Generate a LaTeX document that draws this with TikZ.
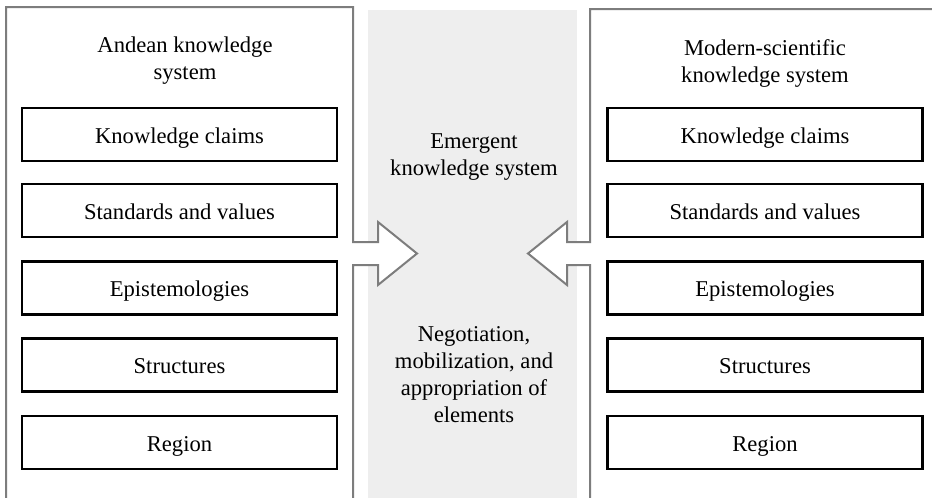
\documentclass[tikz,border=0pt]{standalone}
\usepackage{fontspec}
\setmainfont{Liberation Serif}
\definecolor{panelgray}{RGB}{125,125,125}
\definecolor{bandgray}{RGB}{238,238,238}
\begin{document}
\begin{tikzpicture}[x=1pt,y=-1pt,
  panel/.style={draw=panelgray, line width=2pt, fill=white, line join=miter},
  item/.style={draw=black, line width=2.6pt, fill=white, minimum width=315pt, minimum height=53pt,
    inner sep=0pt, text height=17pt, text depth=0pt, font=\fontsize{22.6}{27}\selectfont},
  label/.style={inner sep=0pt, align=center, anchor=north, font=\fontsize{22.6}{27}\selectfont}]
\useasboundingbox (0,0) rectangle (932,498);
% central band
\node[fill=bandgray, minimum width=209pt, minimum height=488pt, inner sep=0pt, anchor=north west] (band) at (368,10) {};
% left panel with arrow
\draw[panel] (6,499) -- (6,7) -- (353,7) -- (353,242) -- (378,242) -- (378,222) -- (417,253.5)
  -- (378,285) -- (378,265) -- (353,265) -- (353,499);
% right panel with arrow
\draw[panel] (934,9) -- (590,9) -- (590,242) -- (567,242) -- (567,222) -- (528,253.5)
  -- (567,285) -- (567,265) -- (590,265) -- (590,499);
% titles
\node[label] (ltitle) at (185,36.6) {Andean knowledge\\system};
\node[label] (rtitle) at (765,39.6) {Modern-scientific\\knowledge system};
\node[label] (emerg) at (474,133.5) {Emergent\\knowledge system};
\node[label] (nego) at (474,326.5) {Negotiation,\\mobilization, and\\appropriation of\\elements};
% left items
\node[item] (l1) at (179.5,134.5) {Knowledge claims};
\node[item] (l2) at (179.5,210.5) {Standards and values};
\node[item] (l3) at (179.5,288) {Epistemologies};
\node[item] (l4) at (179.5,365) {Structures};
\node[item] (l5) at (179.5,442.5) {Region};
% right items
\node[item] (r1) at (765,134.5) {Knowledge claims};
\node[item] (r2) at (765,210.5) {Standards and values};
\node[item] (r3) at (765,288) {Epistemologies};
\node[item] (r4) at (765,365) {Structures};
\node[item] (r5) at (765,442.5) {Region};
\end{tikzpicture}
\end{document}
